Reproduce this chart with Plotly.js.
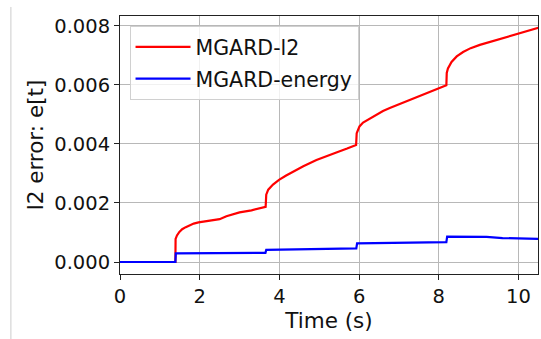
<!DOCTYPE html>
<html>
<head>
<meta charset="utf-8">
<script src="https://cdn.plot.ly/plotly-3.0.1.min.js"></script>
<style>html,body{margin:0;padding:0;background:#fff;}#chart{width:541px;height:339px;}</style>
</head>
<body>
<div id="chart"></div>
<script>
// MGARD-l2 series (time s, error)
const l2Time = [0, 1.39, 1.395, 1.43, 1.49, 1.56, 1.65, 1.75, 1.85, 1.97, 2.2, 2.5, 2.67, 2.85, 3.0, 3.3, 3.64, 3.655, 3.67, 3.72, 3.84, 3.99, 4.17, 4.34, 4.6, 4.93, 5.2, 5.43, 5.7, 5.91, 5.925, 5.94, 5.98, 6.01, 6.10, 6.35, 6.6, 6.77, 7.19, 7.69, 8.17, 8.19, 8.20, 8.23, 8.32, 8.45, 8.61, 8.8, 9.03, 9.3, 9.61, 10.03, 10.5];
const l2Err  = [0, 0, 0.00078, 0.00090, 0.00102, 0.00111, 0.00118, 0.00125, 0.00130, 0.00134, 0.00139, 0.00145, 0.00155, 0.00163, 0.00168, 0.00175, 0.00185, 0.00187, 0.00228, 0.00245, 0.00262, 0.00278, 0.00293, 0.00306, 0.00324, 0.00345, 0.00360, 0.00371, 0.00384, 0.00394, 0.00396, 0.00436, 0.00450, 0.00459, 0.00472, 0.00493, 0.00511, 0.00521, 0.00544, 0.00569, 0.00596, 0.00598, 0.00640, 0.00655, 0.00677, 0.00696, 0.00711, 0.00724, 0.00735, 0.00746, 0.00758, 0.00774, 0.00793];
// MGARD-energy series (time s, error)
const enTime = [0, 1.39, 1.40, 2.5, 3.65, 3.67, 4.5, 5.2, 5.93, 5.95, 7.0, 8.19, 8.21, 8.8, 9.2, 9.6, 10.0, 10.5];
const enErr  = [0, 0, 0.00029, 0.00030, 0.00031, 0.00041, 0.00042, 0.00044, 0.00046, 0.00063, 0.00065, 0.00067, 0.00086, 0.00086, 0.00085, 0.00081, 0.00079, 0.00078];

const xTicks = [0, 2, 4, 6, 8, 10];
const yTicks = [0, 0.002, 0.004, 0.006, 0.008];
const yTickText = ['0.000', '0.002', '0.004', '0.006', '0.008'];

const traces = [
  {x: l2Time, y: l2Err, mode: 'lines', name: 'MGARD-l2', legendgroup: 'a', line: {color: '#ff0000', width: 2.2}},
  {x: enTime, y: enErr, mode: 'lines', name: 'MGARD-energy', legendgroup: 'b', line: {color: '#0000ff', width: 2.2}}
];

const axisCommon = {
  showline: true, linecolor: '#222', linewidth: 1, mirror: true,
  ticks: 'outside', ticklen: 5, tickcolor: '#222', tickwidth: 1,
  showgrid: true, gridcolor: '#b8b8b8', gridwidth: 1,
  zeroline: false,
  tickfont: {family: 'DejaVu Sans', size: 19.5, color: '#111'}
};

const layout = {
  width: 541, height: 339,
  margin: {l: 120, r: 3, t: 16, b: 65},
  paper_bgcolor: '#fff', plot_bgcolor: '#fff',
  font: {family: 'DejaVu Sans', color: '#111'},
  xaxis: Object.assign({}, axisCommon, {
    range: [0, 10.49], tickvals: xTicks,
    title: {text: 'Time (s)', font: {family: 'DejaVu Sans', size: 21.5, color: '#111'}, standoff: 3}
  }),
  yaxis: Object.assign({}, axisCommon, {
    range: [-0.000406, 0.008328], tickvals: yTicks, ticktext: yTickText,
    title: {text: 'l2 error: e[t]', font: {family: 'DejaVu Sans', size: 21.5, color: '#111'}, standoff: 4}
  }),
  showlegend: true,
  legend: {
    x: 0.0228, y: 0.961, xanchor: 'left', yanchor: 'top',
    bgcolor: 'rgba(255,255,255,0.8)', bordercolor: '#d0d0d0', borderwidth: 1,
    font: {family: 'DejaVu Sans', size: 20.5, color: '#111'},
    itemwidth: 55, traceorder: 'grouped', tracegroupgap: 2
  },
  shapes: [
    {type: 'line', xref: 'paper', yref: 'paper', x0: -0.261, x1: -0.261, y0: 1.035, y1: -0.3, line: {color: '#cccccc', width: 1}}
  ]
};

Plotly.newPlot('chart', traces, layout, {displayModeBar: false, staticPlot: true});
</script>
</body>
</html>
